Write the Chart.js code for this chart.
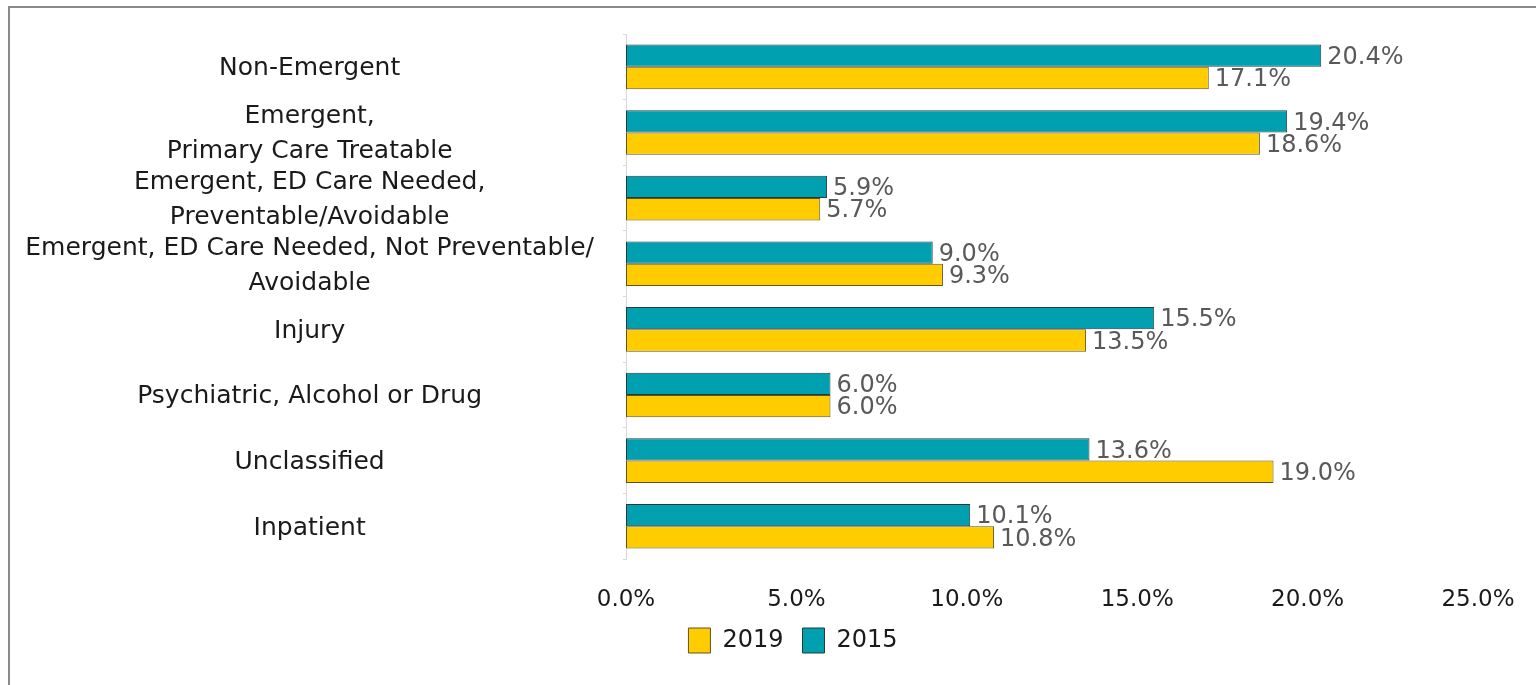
<!DOCTYPE html>
<html>
<head>
<meta charset="utf-8">
<script src="https://cdn.jsdelivr.net/npm/chart.js@4.4.1/dist/chart.umd.min.js"></script>
<style>
  html, body { margin: 0; padding: 0; background: #fff; }
  #wrap { position: relative; width: 1536px; height: 685px; }
  #frame { position: absolute; left: 8px; top: 6px; right: 0; bottom: 0;
           border-left: 2px solid #8a8a8a; border-top: 2px solid #8a8a8a; }
  canvas { position: absolute; left: 0; top: 0; }
</style>
</head>
<body>
<div id="wrap">
  <div id="frame"></div>
  <canvas id="chart" width="1536" height="685"></canvas>
</div>
<script>
const categories = [
  'Non-Emergent',
  ['Emergent,', 'Primary Care Treatable'],
  ['Emergent, ED Care Needed,', 'Preventable/Avoidable'],
  ['Emergent, ED Care Needed, Not Preventable/', 'Avoidable'],
  'Injury',
  'Psychiatric, Alcohol or Drug',
  'Unclassified',
  'Inpatient'
];
const values2015 = [20.4, 19.4, 5.9, 9.0, 15.5, 6.0, 13.6, 10.1];
const values2019 = [17.1, 18.6, 5.7, 9.3, 13.5, 6.0, 19.0, 10.8];

const FONT = 'DejaVu Sans';

// values printed just right of each bar
const barLabels = {
  id: 'barLabels',
  afterDatasetsDraw(chart) {
    const ctx = chart.ctx;
    ctx.save();
    ctx.font = '24px "' + FONT + '"';
    ctx.fillStyle = '#595959';
    ctx.textAlign = 'left';
    ctx.textBaseline = 'middle';
    chart.data.datasets.forEach((ds, i) => {
      chart.getDatasetMeta(i).data.forEach((bar, j) => {
        ctx.fillText(ds.data[j].toFixed(1) + '%', bar.x + 6, bar.y + 2);
      });
    });
    ctx.restore();
  }
};

// legend sits left of the canvas centre in the original
const legendShift = {
  id: 'legendShift',
  afterLayout(chart) {
    const lg = chart.legend;
    if (!lg) return;
    const d = 793 - (lg.left + lg.right) / 2;
    lg.left += d;
    lg.right += d;
  }
};

new Chart(document.getElementById('chart'), {
  type: 'bar',
  data: {
    labels: categories,
    datasets: [
      {
        label: '2015',
        data: values2015,
        backgroundColor: '#00A0B0',
        borderColor: '#263a3c',
        borderWidth: 1,
        borderSkipped: false
      },
      {
        label: '2019',
        data: values2019,
        backgroundColor: '#FFCC00',
        borderColor: '#5e5420',
        borderWidth: 1,
        borderSkipped: false
      }
    ]
  },
  options: {
    indexAxis: 'y',
    responsive: false,
    animation: false,
    devicePixelRatio: 1,
    categoryPercentage: 0.68,
    barPercentage: 1.0,
    layout: { padding: { left: 0, top: 34, right: 58, bottom: 22 } },
    scales: {
      x: {
        min: 0,
        max: 25,
        afterFit: s => { s.height = 50; s.paddingLeft = 0; s.paddingRight = 0; },
        ticks: {
          stepSize: 5,
          padding: 27,
          color: '#1a1a1a',
          font: { family: FONT, size: 23 },
          callback: v => v.toFixed(1) + '%'
        },
        grid: { display: false, drawTicks: false },
        border: { display: false }
      },
      y: {
        afterFit: s => { s.width = 626; s.paddingTop = 0; s.paddingBottom = 0; },
        ticks: {
          autoSkip: false,
          crossAlign: 'center',
          padding: 29,
          labelOffset: 2,
          color: '#1a1a1a',
          font: { family: FONT, size: 25, lineHeight: 1.4 }
        },
        grid: { drawOnChartArea: false, tickLength: 3, color: '#d9d9d9' },
        border: { color: '#d9d9d9', dash: [2, 2] }
      }
    },
    plugins: {
      legend: {
        position: 'bottom',
        reverse: true,
        labels: {
          boxWidth: 22,
          boxHeight: 25,
          padding: 19,
          color: '#1a1a1a',
          font: { family: FONT, size: 24 }
        }
      },
      tooltip: { enabled: false }
    }
  },
  plugins: [barLabels, legendShift]
});
</script>
</body>
</html>
